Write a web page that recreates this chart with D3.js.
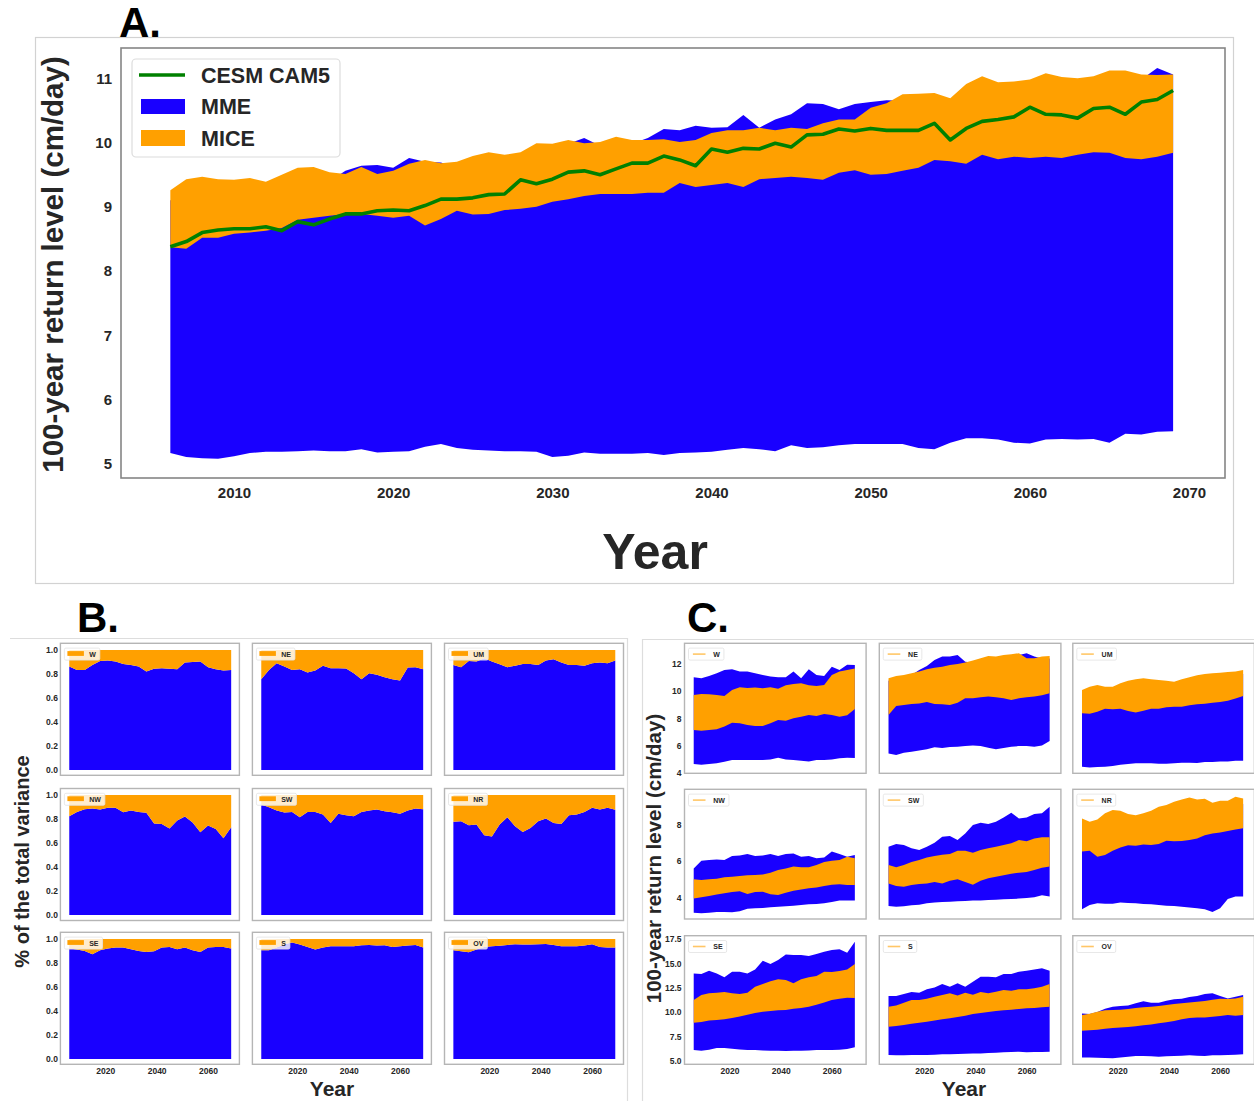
<!DOCTYPE html>
<html>
<head>
<meta charset="utf-8">
<script src="https://cdn.jsdelivr.net/npm/d3@7"></script>
<style>
  body { margin: 0; background: #fff; }
  svg { display: block; font-family: "Liberation Sans", Arial, sans-serif; }
</style>
</head>
<body>
<div id="chart"></div>
<script>
// ---- Panel A data (yearly, 2006-2069) ----
const yearsA = d3.range(2006, 2070);
const aCesm = [8.38, 8.46, 8.60, 8.64, 8.66, 8.66, 8.69, 8.63, 8.77, 8.72, 8.81, 8.89, 8.89, 8.94, 8.95, 8.94, 9.02,
  9.12, 9.12, 9.14, 9.19, 9.20, 9.42, 9.36, 9.43, 9.54, 9.56, 9.50, 9.59, 9.68, 9.68, 9.79, 9.73, 9.64, 9.90, 9.85, 9.91, 9.90, 9.99, 9.93, 10.12,
  10.13, 10.21, 10.18, 10.22, 10.19, 10.19, 10.19, 10.30, 10.04, 10.22, 10.33, 10.36, 10.40, 10.55, 10.44, 10.43, 10.38, 10.53, 10.55, 10.44, 10.63, 10.67, 10.81];
const aMiceHigh = [9.26, 9.43, 9.47, 9.43, 9.42, 9.45, 9.39, 9.50, 9.61, 9.62, 9.54, 9.51, 9.62, 9.51, 9.56, 9.67, 9.73,
  9.68, 9.70, 9.79, 9.85, 9.81, 9.85, 9.99, 9.98, 10.04, 9.99, 10.01, 10.09, 10.04, 10.04, 10.05, 10.01, 10.04, 10.15, 10.19, 10.19, 10.23, 10.19, 10.23, 10.21, 10.30,
  10.36, 10.36, 10.54, 10.61, 10.75, 10.76, 10.77, 10.69, 10.91, 11.03, 10.94, 10.95, 10.98, 11.08, 11.02, 11.00, 11.03, 11.12, 11.12, 11.06, 11.05, 11.06];
const aMiceLow = [8.37, 8.35, 8.52, 8.52, 8.58, 8.60, 8.63, 8.67, 8.80, 8.83, 8.86, 8.89, 8.89, 8.86, 8.83,
  8.86, 8.71, 8.81, 8.94, 8.88, 8.89, 8.95, 8.97, 9.00, 9.08, 9.12, 9.17, 9.20, 9.20, 9.20, 9.22, 9.22, 9.37, 9.31, 9.34, 9.37, 9.31, 9.43, 9.45, 9.47, 9.45, 9.42,
  9.53, 9.57, 9.50, 9.51, 9.56, 9.61, 9.73, 9.71, 9.67, 9.81, 9.74, 9.78, 9.76, 9.78, 9.76, 9.81, 9.85, 9.84, 9.76, 9.74, 9.78, 9.84];
const aMmeHigh = [9.10, 9.28, 9.30, 9.28, 9.27, 9.30, 9.24, 9.35, 9.45, 9.47, 9.40,
  9.56, 9.64, 9.65, 9.61, 9.76, 9.70, 9.69,
  9.60, 9.68, 9.75, 9.72, 9.76, 9.90, 9.90, 9.98, 10.07, 9.95, 10.00, 9.98,
  10.07, 10.21, 10.19, 10.26, 10.23, 10.24, 10.43, 10.23, 10.36, 10.44, 10.61, 10.60, 10.52, 10.60, 10.63, 10.66,
  10.65, 10.60, 10.62, 10.55, 10.75, 10.88, 10.80, 10.80, 10.83, 10.92, 10.87, 10.85, 10.88, 10.97, 10.97, 10.98, 11.16, 11.06];
const aMmeLow = [5.17, 5.11, 5.09, 5.08, 5.12, 5.17, 5.19, 5.19, 5.20, 5.21, 5.20, 5.20, 5.23, 5.18, 5.19, 5.20,
  5.27, 5.31, 5.25, 5.22, 5.21, 5.20, 5.20, 5.19, 5.11, 5.13, 5.18, 5.16, 5.16, 5.16, 5.17, 5.14, 5.17, 5.18, 5.19,
  5.22, 5.25, 5.23, 5.20, 5.29, 5.25, 5.26, 5.29, 5.31, 5.31, 5.31, 5.31, 5.25, 5.23, 5.33, 5.40, 5.40, 5.38, 5.33,
  5.32, 5.38, 5.39, 5.38, 5.39, 5.33, 5.47, 5.46, 5.50, 5.51];
const aTicksY = [5, 6, 7, 8, 9, 10, 11];
const aTicksX = [2010, 2020, 2030, 2040, 2050, 2060, 2070];

// ---- Panels B and C (read every 3 years) ----
const yearsSmall = [2006, 2009, 2012, 2015, 2018, 2021, 2024, 2027, 2030, 2033, 2036, 2039, 2042, 2045, 2048, 2051, 2054, 2057, 2060, 2063, 2066, 2069];
const regions = ['W', 'NE', 'UM', 'NW', 'SW', 'NR', 'SE', 'S', 'OV'];

// B: MME share of the total variance
const shareW = [0.861, 0.833, 0.833, 0.875, 0.908, 0.911, 0.903, 0.883, 0.875, 0.861, 0.819, 0.842, 0.847, 0.842, 0.839, 0.894, 0.900, 0.903, 0.856, 0.839, 0.828, 0.833];
const shareNE = [0.756, 0.833, 0.889, 0.861, 0.833, 0.839, 0.811, 0.828, 0.867, 0.847, 0.847, 0.844, 0.806, 0.756, 0.806, 0.792, 0.772, 0.756, 0.744, 0.853, 0.856, 0.839];
const shareUM = [0.875, 0.856, 0.908, 0.903, 0.931, 0.903, 0.881, 0.856, 0.867, 0.883, 0.883, 0.875, 0.911, 0.922, 0.894, 0.875, 0.875, 0.867, 0.889, 0.894, 0.889, 0.911];
const shareNW = [0.824, 0.860, 0.883, 0.888, 0.880, 0.894, 0.894, 0.858, 0.872, 0.860, 0.852, 0.763, 0.760, 0.721, 0.788, 0.821, 0.771, 0.690, 0.746, 0.718, 0.640, 0.732];
const shareSW = [0.922, 0.899, 0.872, 0.855, 0.860, 0.816, 0.860, 0.860, 0.838, 0.768, 0.844, 0.832, 0.824, 0.860, 0.872, 0.880, 0.866, 0.858, 0.844, 0.872, 0.888, 0.883];
const shareNR = [0.777, 0.782, 0.749, 0.754, 0.665, 0.656, 0.754, 0.816, 0.740, 0.693, 0.726, 0.782, 0.804, 0.768, 0.760, 0.832, 0.838, 0.860, 0.894, 0.880, 0.894, 0.877];
const shareSE = [0.919, 0.911, 0.900, 0.872, 0.905, 0.919, 0.928, 0.928, 0.914, 0.900, 0.891, 0.897, 0.928, 0.933, 0.914, 0.928, 0.905, 0.891, 0.928, 0.933, 0.933, 0.919];
const shareS = [0.905, 0.905, 0.928, 0.955, 0.969, 0.953, 0.933, 0.911, 0.928, 0.939, 0.939, 0.939, 0.939, 0.947, 0.950, 0.944, 0.947, 0.933, 0.939, 0.944, 0.950, 0.928];
const shareOV = [0.905, 0.897, 0.889, 0.911, 0.933, 0.939, 0.942, 0.950, 0.955, 0.953, 0.953, 0.955, 0.958, 0.950, 0.939, 0.939, 0.939, 0.944, 0.955, 0.933, 0.928, 0.928];
const bTicksY = [0, 0.2, 0.4, 0.6, 0.8, 1.0];

// C: regional 100-year return level bands (cm/day)
const wMmeHigh = [11.02, 10.94, 11.12, 11.31, 11.56, 11.61, 11.44, 11.44, 11.31, 11.19, 11.07, 11.02, 11.02, 11.44, 10.94, 11.61, 11.19, 11.12, 11.80, 11.56, 11.95, 11.93];
const wMiceHigh = [9.72, 9.79, 9.77, 9.72, 9.64, 10.09, 10.28, 10.23, 10.26, 10.21, 10.28, 10.18, 10.43, 10.53, 10.58, 10.43, 10.38, 10.45, 11.19, 11.44, 11.56, 11.66];
const wMiceLow = [7.14, 7.09, 7.14, 7.19, 7.39, 7.68, 7.63, 7.51, 7.44, 7.44, 7.63, 7.88, 7.83, 8.00, 8.12, 8.25, 8.17, 8.32, 8.25, 8.12, 8.22, 8.69];
const wMmeLow = [4.64, 4.59, 4.64, 4.69, 4.81, 4.93, 4.93, 4.93, 4.93, 4.93, 4.98, 5.10, 4.98, 4.93, 4.88, 4.83, 4.93, 4.93, 4.98, 5.06, 5.10, 5.08];

const neMmeHigh = [10.77, 10.94, 11.02, 11.19, 11.56, 11.85, 12.29, 12.54, 12.54, 12.66, 12.17, 12.10, 12.29, 12.42, 12.42, 12.49, 12.59, 12.66, 12.79, 12.54, 12.40, 12.40];
const neMiceHigh = [10.94, 11.12, 11.19, 11.31, 11.44, 11.61, 11.73, 11.80, 11.93, 12.00, 12.10, 12.25, 12.42, 12.59, 12.54, 12.66, 12.71, 12.79, 12.42, 12.42, 12.54, 12.59];
const neMiceLow = [8.25, 8.91, 8.98, 9.06, 9.10, 9.20, 9.06, 9.03, 8.98, 9.15, 9.47, 9.47, 9.55, 9.60, 9.55, 9.47, 9.35, 9.47, 9.55, 9.60, 9.69, 9.84];
const neMmeLow = [5.42, 5.30, 5.47, 5.55, 5.64, 5.72, 5.87, 5.82, 5.89, 5.91, 5.96, 6.01, 5.96, 5.84, 5.72, 5.82, 5.91, 5.96, 5.96, 5.91, 6.01, 6.33];

const umMmeHigh = [9.79, 10.03, 10.15, 10.03, 10.03, 10.28, 10.47, 10.57, 10.64, 10.57, 10.52, 10.47, 10.40, 10.57, 10.72, 10.87, 10.96, 11.01, 11.06, 11.11, 11.14, 11.26];
const umMiceHigh = [10.09, 10.33, 10.45, 10.33, 10.33, 10.58, 10.77, 10.87, 10.94, 10.87, 10.82, 10.77, 10.70, 10.87, 11.02, 11.17, 11.26, 11.31, 11.36, 11.41, 11.44, 11.56];
const umMiceLow = [8.37, 8.34, 8.49, 8.71, 8.66, 8.71, 8.54, 8.42, 8.56, 8.71, 8.71, 8.81, 8.86, 8.86, 8.96, 9.03, 9.08, 9.15, 9.20, 9.30, 9.45, 9.64];
const umMmeLow = [4.44, 4.39, 4.42, 4.44, 4.49, 4.59, 4.64, 4.69, 4.69, 4.69, 4.66, 4.66, 4.69, 4.74, 4.74, 4.71, 4.79, 4.79, 4.83, 4.83, 4.88, 4.88];

const nwMmeHigh = [5.60, 6.03, 6.06, 6.10, 6.06, 6.29, 6.32, 6.40, 6.29, 6.32, 6.40, 6.29, 6.40, 6.43, 6.25, 6.29, 6.16, 6.21, 6.53, 6.40, 6.25, 6.34];
const nwMiceHigh = [5.00, 4.96, 5.00, 5.03, 5.11, 5.14, 5.18, 5.22, 5.24, 5.27, 5.36, 5.51, 5.60, 5.70, 5.66, 5.66, 5.79, 5.95, 6.03, 6.06, 6.25, 6.16];
const nwMiceLow = [3.94, 4.00, 4.07, 4.15, 4.22, 4.29, 4.33, 4.18, 4.29, 4.31, 4.17, 4.13, 4.26, 4.37, 4.44, 4.50, 4.55, 4.63, 4.70, 4.72, 4.68, 4.68];
const nwMmeLow = [3.15, 3.12, 3.15, 3.19, 3.19, 3.17, 3.23, 3.37, 3.39, 3.41, 3.45, 3.48, 3.50, 3.54, 3.58, 3.61, 3.63, 3.67, 3.74, 3.82, 3.82, 3.82];

const swMmeHigh = [6.80, 6.95, 6.89, 6.71, 6.62, 6.80, 7.02, 7.35, 7.39, 7.17, 7.54, 8.00, 8.13, 8.06, 8.18, 8.42, 8.68, 8.37, 8.42, 8.61, 8.65, 9.01];
const swMiceHigh = [5.79, 5.66, 5.79, 5.95, 6.06, 6.21, 6.29, 6.36, 6.40, 6.58, 6.58, 6.47, 6.62, 6.71, 6.80, 6.89, 6.99, 7.17, 7.10, 7.26, 7.32, 7.32];
const swMiceLow = [4.77, 4.63, 4.59, 4.68, 4.74, 4.77, 4.85, 4.77, 4.92, 5.00, 4.85, 4.70, 4.92, 5.05, 5.14, 5.22, 5.31, 5.36, 5.40, 5.51, 5.64, 5.70];
const swMmeLow = [3.52, 3.48, 3.50, 3.56, 3.59, 3.67, 3.71, 3.74, 3.76, 3.78, 3.80, 3.82, 3.83, 3.85, 3.87, 3.89, 3.91, 3.93, 3.96, 4.00, 4.11, 4.04];

const nrMmeHigh = [8.07, 7.88, 8.01, 8.35, 8.53, 8.49, 8.31, 8.25, 8.35, 8.49, 8.71, 8.81, 8.99, 9.12, 9.23, 9.12, 9.16, 8.94, 9.05, 9.05, 9.27, 9.17];
const nrMiceHigh = [8.37, 8.18, 8.31, 8.65, 8.83, 8.79, 8.61, 8.55, 8.65, 8.79, 9.01, 9.11, 9.29, 9.42, 9.53, 9.42, 9.46, 9.24, 9.35, 9.35, 9.57, 9.47];
const nrMiceLow = [6.53, 6.58, 6.25, 6.34, 6.58, 6.76, 6.88, 6.86, 6.93, 6.89, 6.95, 7.13, 7.10, 7.12, 7.17, 7.26, 7.43, 7.54, 7.59, 7.67, 7.76, 7.83];
const nrMmeLow = [3.34, 3.58, 3.67, 3.65, 3.65, 3.71, 3.69, 3.67, 3.63, 3.61, 3.58, 3.54, 3.52, 3.48, 3.43, 3.39, 3.34, 3.19, 3.39, 3.91, 4.04, 4.04];

const seMmeHigh = [13.97, 13.90, 14.25, 13.97, 13.56, 14.14, 14.14, 13.97, 14.38, 15.27, 14.93, 15.34, 15.92, 15.86, 15.86, 15.75, 15.96, 16.20, 16.37, 16.44, 16.10, 17.23];
const seMiceHigh = [11.23, 11.75, 11.92, 11.99, 12.05, 11.92, 11.85, 11.99, 12.60, 12.88, 13.15, 13.36, 13.29, 12.95, 13.36, 13.56, 13.70, 14.14, 14.11, 14.21, 14.38, 14.93];
const seMiceLow = [8.90, 8.97, 9.14, 9.18, 9.25, 9.38, 9.55, 9.73, 9.90, 10.03, 10.10, 10.17, 10.21, 10.34, 10.41, 10.55, 10.75, 10.99, 11.23, 11.37, 11.47, 11.44];
const seMmeLow = [6.10, 6.03, 6.13, 6.30, 6.30, 6.23, 6.16, 6.10, 6.10, 6.06, 6.03, 6.03, 6.00, 6.03, 6.03, 6.06, 6.10, 6.10, 6.10, 6.13, 6.20, 6.37];

const sMmeHigh = [11.64, 11.64, 11.85, 12.05, 11.99, 12.33, 12.53, 12.88, 12.60, 12.95, 12.60, 13.12, 13.63, 13.63, 13.56, 13.90, 13.90, 14.14, 14.25, 14.38, 14.49, 14.25];
const sMiceHigh = [10.55, 10.68, 10.96, 11.23, 11.23, 11.37, 11.58, 11.75, 11.92, 11.71, 11.99, 11.78, 12.05, 11.92, 12.09, 12.26, 12.19, 12.33, 12.33, 12.43, 12.60, 12.88];
const sMiceLow = [8.49, 8.56, 8.66, 8.80, 8.90, 9.01, 9.14, 9.25, 9.35, 9.49, 9.62, 9.79, 9.90, 10.00, 10.10, 10.17, 10.24, 10.31, 10.38, 10.41, 10.48, 10.55];
const sMmeLow = [5.58, 5.55, 5.55, 5.58, 5.58, 5.58, 5.62, 5.65, 5.65, 5.68, 5.72, 5.75, 5.75, 5.79, 5.82, 5.86, 5.89, 5.92, 5.86, 5.89, 5.89, 5.92];

const ovMmeHigh = [9.86, 9.79, 10.00, 10.34, 10.55, 10.62, 10.68, 10.89, 11.10, 10.96, 10.96, 11.16, 11.30, 11.37, 11.54, 11.64, 11.85, 11.92, 11.64, 11.40, 11.58, 11.75];
const ovMiceHigh = [9.69, 9.83, 10.03, 10.17, 10.21, 10.24, 10.31, 10.41, 10.48, 10.55, 10.62, 10.72, 10.82, 10.89, 10.99, 11.06, 11.13, 11.27, 11.37, 11.34, 11.40, 11.58];
const ovMiceLow = [8.08, 8.12, 8.18, 8.29, 8.36, 8.42, 8.46, 8.53, 8.63, 8.73, 8.84, 8.94, 9.08, 9.25, 9.38, 9.45, 9.45, 9.52, 9.59, 9.69, 9.62, 9.69];
const ovMmeLow = [5.34, 5.34, 5.31, 5.27, 5.24, 5.34, 5.41, 5.48, 5.48, 5.45, 5.41, 5.45, 5.48, 5.51, 5.55, 5.51, 5.48, 5.55, 5.55, 5.58, 5.62, 5.65];

const cRowTicks = [[4, 6, 8, 10, 12], [4, 6, 8], [5, 7.5, 10, 12.5, 15, 17.5]];
const smallTicksX = [2020, 2040, 2060];

const BLUE = '#1900ff', ORANGE = '#ffa000', GREEN = '#008000', INK = '#262626';

const svg = d3.select('#chart').append('svg').attr('width', 1254).attr('height', 1101);
svg.append('rect').attr('width', 1254).attr('height', 1101).attr('fill', '#fff');

function styleAxis(axisG, size) {
  axisG.select('.domain').remove();
  axisG.attr('font-family', null).attr('font-size', null);
  axisG.selectAll('text').attr('fill', INK).attr('font-size', size).attr('font-weight', 'bold');
}

function bigLetter(text, x, y) {
  svg.append('text').attr('x', x).attr('y', y).attr('font-size', 42).attr('font-weight', 'bold')
    .attr('fill', '#000').text(text);
}

function axisTitle(text, x, y, size, rotate) {
  svg.append('text')
    .attr('transform', `translate(${x},${y})${rotate ? ' rotate(-90)' : ''}`)
    .attr('text-anchor', 'middle').attr('font-size', size).attr('font-weight', 'bold')
    .attr('fill', INK).text(text);
}

// ================= A =================
svg.append('rect').attr('x', 35.5).attr('y', 37.5).attr('width', 1198).attr('height', 546)
  .attr('fill', 'none').attr('stroke', '#d2d2d2').attr('stroke-width', 1.2);

const xA = d3.scaleLinear().domain([2002.9, 2072.26]).range([121, 1225]);
const yA = d3.scaleLinear().domain([4.782, 11.471]).range([478, 48]);
const rowsA = yearsA.map((yr, i) => ({
  yr, mmeLo: aMmeLow[i], mmeHi: aMmeHigh[i], miceLo: aMiceLow[i], miceHi: aMiceHigh[i], cesm: aCesm[i]
}));
const gA = svg.append('g');
const bandA = (lo, hi) => d3.area().x(d => xA(d.yr)).y0(d => yA(d[lo])).y1(d => yA(d[hi]));

gA.append('path').datum(rowsA).attr('d', bandA('mmeLo', 'mmeHi')).attr('fill', BLUE);
gA.append('path').datum(rowsA).attr('d', bandA('miceLo', 'miceHi')).attr('fill', ORANGE);
gA.append('path').datum(rowsA)
  .attr('d', d3.line().x(d => xA(d.yr)).y(d => yA(d.cesm)))
  .attr('fill', 'none').attr('stroke', GREEN).attr('stroke-width', 3.6).attr('stroke-linejoin', 'round');

gA.append('rect').attr('x', 121).attr('y', 48).attr('width', 1104).attr('height', 430)
  .attr('fill', 'none').attr('stroke', '#858585').attr('stroke-width', 1.6);

const axAy = gA.append('g').attr('transform', 'translate(121,0)')
  .call(d3.axisLeft(yA).tickValues(aTicksY).tickSize(0).tickPadding(9).tickFormat(d3.format('d')));
styleAxis(axAy, 15);
const axAx = gA.append('g').attr('transform', 'translate(0,478)')
  .call(d3.axisBottom(xA).tickValues(aTicksX).tickSize(0).tickPadding(9).tickFormat(d3.format('d')));
styleAxis(axAx, 15);

// legend
const legA = gA.append('g');
legA.append('rect').attr('x', 132).attr('y', 59).attr('width', 208).attr('height', 98).attr('rx', 4)
  .attr('fill', '#fff').attr('fill-opacity', 0.85).attr('stroke', '#dcdcdc').attr('stroke-width', 1.2);
legA.append('line').attr('x1', 139).attr('x2', 185).attr('y1', 75).attr('y2', 75)
  .attr('stroke', GREEN).attr('stroke-width', 3.6);
legA.append('rect').attr('x', 141).attr('y', 99).attr('width', 44).attr('height', 15).attr('fill', BLUE);
legA.append('rect').attr('x', 141).attr('y', 130).attr('width', 44).attr('height', 16).attr('fill', ORANGE);
[['CESM CAM5', 82.5], ['MME', 114], ['MICE', 145.5]].forEach(([t, y]) => {
  legA.append('text').attr('x', 201).attr('y', y).attr('font-size', 21.5).attr('font-weight', 'bold')
    .attr('fill', INK).text(t);
});

axisTitle('100-year return level (cm/day)', 63, 264.5, 29.5, true);
axisTitle('Year', 655, 569, 50, false);
bigLetter('A.', 119, 37);

// ================= B and C frames =================
svg.append('path').attr('d', 'M10,638.5 H627.5 V1101').attr('fill', 'none').attr('stroke', '#dddddd').attr('stroke-width', 1.2);
svg.append('path').attr('d', 'M642.5,1101 V639.5 H1254').attr('fill', 'none').attr('stroke', '#dddddd').attr('stroke-width', 1.2);

function smallLegend(g, x0, y0, label, isLine) {
  const lg = g.append('g').attr('transform', `translate(${x0},${y0})`);
  const box = lg.append('rect').attr('x', 4).attr('y', 4.8).attr('height', 12).attr('rx', 1.5)
    .attr('fill', '#fff').attr('fill-opacity', 0.8).attr('stroke', '#e2e2e2').attr('stroke-width', 0.8);
  if (isLine) {
    lg.append('line').attr('x1', 8.4).attr('x2', 21).attr('y1', 10.8).attr('y2', 10.8)
      .attr('stroke', ORANGE).attr('stroke-opacity', 0.6).attr('stroke-width', 1.6);
  } else {
    lg.append('rect').attr('x', 7).attr('y', 7.8).attr('width', 16.5).attr('height', 4.8).attr('fill', ORANGE);
  }
  const txt = lg.append('text').attr('x', 28.8).attr('y', 13.3).attr('font-size', 7).attr('font-weight', 'bold')
    .attr('fill', INK).text(label);
  box.attr('width', 24.8 + txt.node().getComputedTextLength() + 4);
}

// ================= B =================
const bShares = [shareW, shareNE, shareUM, shareNW, shareSW, shareNR, shareSE, shareS, shareOV];
const bCols = [60.4, 252.4, 444.5];
const bRowsTop = [643.3, 788.5, 932.3];
const bW = 179, bH = 132;

regions.forEach((name, k) => {
  const col = k % 3, row = Math.floor(k / 3);
  const x0 = bCols[col], y0 = bRowsTop[row];
  const x = d3.scaleLinear().domain([2002.55, 2072.2]).range([x0, x0 + bW]);
  const y = d3.scaleLinear().domain([-0.045, 1.055]).range([y0 + bH, y0]);
  const rows = yearsSmall.map((yr, i) => ({ yr, v: bShares[k][i] }));
  const g = svg.append('g');

  g.append('path').datum(rows)
    .attr('d', d3.area().x(d => x(d.yr)).y0(y(0)).y1(d => y(d.v))).attr('fill', BLUE);
  g.append('path').datum(rows)
    .attr('d', d3.area().x(d => x(d.yr)).y0(d => y(d.v)).y1(y(1))).attr('fill', ORANGE);
  g.append('rect').attr('x', x0).attr('y', y0).attr('width', bW).attr('height', bH)
    .attr('fill', 'none').attr('stroke', '#b5b5b5').attr('stroke-width', 1.4);

  if (col === 0) {
    const ay = g.append('g').attr('transform', `translate(${x0},0)`)
      .call(d3.axisLeft(y).tickValues(bTicksY).tickSize(0).tickPadding(2.5).tickFormat(d3.format('.1f')));
    styleAxis(ay, 8.5);
  }
  if (row === 2) {
    const ax = g.append('g').attr('transform', `translate(0,${y0 + bH})`)
      .call(d3.axisBottom(x).tickValues(smallTicksX).tickSize(0).tickPadding(3.5).tickFormat(d3.format('d')));
    styleAxis(ax, 8.5);
  }
  smallLegend(g, x0, y0, name, false);
});

axisTitle('% of the total variance', 29, 861.5, 20, true);
axisTitle('Year', 332, 1096, 21, false);
bigLetter('B.', 77, 632);

// ================= C =================
const cBands = [
  [wMmeLow, wMmeHigh, wMiceLow, wMiceHigh], [neMmeLow, neMmeHigh, neMiceLow, neMiceHigh], [umMmeLow, umMmeHigh, umMiceLow, umMiceHigh],
  [nwMmeLow, nwMmeHigh, nwMiceLow, nwMiceHigh], [swMmeLow, swMmeHigh, swMiceLow, swMiceHigh], [nrMmeLow, nrMmeHigh, nrMiceLow, nrMiceHigh],
  [seMmeLow, seMmeHigh, seMiceLow, seMiceHigh], [sMmeLow, sMmeHigh, sMiceLow, sMiceHigh], [ovMmeLow, ovMmeHigh, ovMiceLow, ovMiceHigh]
];
const cCols = [684.5, 879.3, 1072.8];
const cRowsTop = [643.3, 789.3, 935.7];
const cRowsH = [130, 129.7, 128.6];
const cRowsDomain = [[3.956, 13.52], [2.80, 9.98], [4.63, 17.84]];
const cW = 181.6;

regions.forEach((name, k) => {
  const col = k % 3, row = Math.floor(k / 3);
  const x0 = cCols[col], y0 = cRowsTop[row], h = cRowsH[row];
  const x = d3.scaleLinear().domain([2002.4, 2073.4]).range([x0, x0 + cW]);
  const y = d3.scaleLinear().domain(cRowsDomain[row]).range([y0 + h, y0]);
  const [mLo, mHi, iLo, iHi] = cBands[k];
  const rows = yearsSmall.map((yr, i) => ({ yr, mLo: mLo[i], mHi: mHi[i], iLo: iLo[i], iHi: iHi[i] }));
  const band = (lo, hi) => d3.area().x(d => x(d.yr)).y0(d => y(d[lo])).y1(d => y(d[hi]));
  const g = svg.append('g');

  g.append('path').datum(rows).attr('d', band('mLo', 'mHi')).attr('fill', BLUE);
  g.append('path').datum(rows).attr('d', band('iLo', 'iHi')).attr('fill', ORANGE);
  g.append('rect').attr('x', x0).attr('y', y0).attr('width', cW).attr('height', h)
    .attr('fill', 'none').attr('stroke', '#b5b5b5').attr('stroke-width', 1.4);

  if (col === 0) {
    const fmt = row === 2 ? d3.format('.1f') : d3.format('d');
    const ay = g.append('g').attr('transform', `translate(${x0},0)`)
      .call(d3.axisLeft(y).tickValues(cRowTicks[row]).tickSize(0).tickPadding(3).tickFormat(fmt));
    styleAxis(ay, 8.5);
  }
  if (row === 2) {
    const ax = g.append('g').attr('transform', `translate(0,${y0 + h})`)
      .call(d3.axisBottom(x).tickValues(smallTicksX).tickSize(0).tickPadding(3.5).tickFormat(d3.format('d')));
    styleAxis(ax, 8.5);
  }
  smallLegend(g, x0, y0, name, true);
});

axisTitle('100-year return level (cm/day)', 661, 858.5, 20.5, true);
axisTitle('Year', 964, 1096, 21, false);
bigLetter('C.', 687, 632);
</script>
</body>
</html>
